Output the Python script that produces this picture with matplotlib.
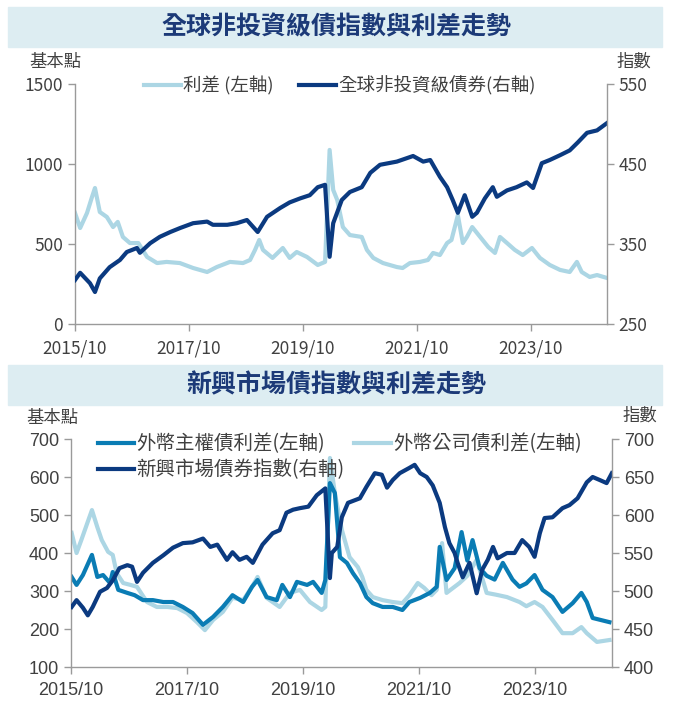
import numpy as np
import pandas as pd
import matplotlib
matplotlib.use("Agg")
import matplotlib.pyplot as plt
import matplotlib.dates as mdates
from matplotlib.patches import Rectangle

plt.rcParams['font.family'] = ['Noto Sans CJK TC', 'DejaVu Sans']

# --- data ---

# top panel: global high yield index (right axis)
hy_index_dates = [
    "2015-10-01", "2015-11-03", "2016-01-05", "2016-02-06", "2016-03-08", "2016-05-10",
    "2016-07-15", "2016-08-28", "2016-11-01", "2016-11-20", "2017-01-25", "2017-03-28",
    "2017-06-03", "2017-08-05", "2017-10-27", "2018-01-25", "2018-03-03", "2018-06-03",
    "2018-08-03", "2018-10-07", "2018-12-15", "2019-02-13", "2019-05-08", "2019-07-08",
    "2019-09-13", "2019-11-14", "2020-01-04", "2020-02-20", "2020-03-20", "2020-04-12",
    "2020-06-06", "2020-07-28", "2020-10-12", "2020-12-06", "2021-02-06", "2021-05-25",
    "2021-09-06", "2021-11-10", "2021-12-25", "2022-02-25", "2022-04-12", "2022-05-18",
    "2022-06-20", "2022-08-03", "2022-09-20", "2022-10-20", "2022-12-10", "2023-01-30",
    "2023-02-25", "2023-05-01", "2023-07-01", "2023-09-05", "2023-10-15", "2023-12-10",
    "2024-01-30", "2024-04-05", "2024-06-06", "2024-07-28", "2024-09-25", "2024-11-28",
    "2025-01-30",
]
hy_index = [
    305, 314, 301, 290, 307, 321, 330, 340, 345, 339, 351, 359,
    365, 370, 376, 378, 374, 374, 376, 380, 365, 384, 395, 402,
    407, 411, 421, 424, 334, 376, 405, 415, 421, 439, 449, 453,
    460, 453, 455, 434, 421, 405, 389, 411, 384, 389, 407, 421,
    409, 417, 421, 427, 420, 451, 455, 461, 467, 477, 489, 492,
    501,
]

# top panel: high yield spread (left axis, bp)
hy_spread_dates = [
    "2015-10-01", "2015-11-03", "2015-12-17", "2016-01-18", "2016-02-06", "2016-03-08",
    "2016-04-22", "2016-06-01", "2016-07-01", "2016-08-03", "2016-09-17", "2016-11-10",
    "2017-01-05", "2017-03-10", "2017-05-10", "2017-08-03", "2017-10-27", "2018-01-25",
    "2018-03-28", "2018-06-20", "2018-09-12", "2018-10-27", "2018-11-28", "2018-12-25",
    "2019-01-18", "2019-03-20", "2019-05-25", "2019-07-08", "2019-08-22", "2019-10-27",
    "2020-01-04", "2020-02-20", "2020-03-20", "2020-04-12", "2020-05-08", "2020-06-13",
    "2020-07-28", "2020-10-12", "2020-11-14", "2020-12-25", "2021-02-25", "2021-05-25",
    "2021-07-01", "2021-08-17", "2021-10-20", "2021-12-10", "2022-01-12", "2022-02-25",
    "2022-04-12", "2022-05-10", "2022-06-20", "2022-07-22", "2022-08-17", "2022-09-20",
    "2022-11-10", "2023-01-01", "2023-02-13", "2023-03-17", "2023-05-01", "2023-06-20",
    "2023-08-10", "2023-10-08", "2023-11-28", "2024-01-30", "2024-04-05", "2024-06-06",
    "2024-07-22", "2024-08-22", "2024-10-12", "2024-11-28", "2025-01-30",
]
hy_spread = [
    694, 600, 694, 794, 850, 700, 669, 606, 638, 544, 506, 506,
    419, 381, 388, 381, 350, 325, 356, 388, 381, 400, 463, 525,
    463, 413, 475, 413, 450, 419, 369, 388, 1088, 838, 775, 606,
    556, 544, 463, 413, 381, 356, 350, 381, 388, 400, 444, 431,
    506, 525, 680, 506, 544, 606, 544, 481, 444, 544, 506, 463,
    431, 475, 413, 369, 338, 325, 388, 325, 294, 306, 288,
]

# bottom panel: EM bond index (right axis)
em_index_dates = [
    "2015-10-05", "2015-11-05", "2015-12-15", "2016-01-15", "2016-02-15", "2016-04-01",
    "2016-05-15", "2016-06-20", "2016-08-01", "2016-09-20", "2016-10-20", "2016-11-20",
    "2016-12-28", "2017-02-28", "2017-05-05", "2017-07-05", "2017-09-05", "2017-11-05",
    "2018-01-10", "2018-02-25", "2018-04-10", "2018-06-10", "2018-07-15", "2018-08-28",
    "2018-10-12", "2018-11-20", "2019-01-20", "2019-03-25", "2019-05-08", "2019-06-20",
    "2019-08-01", "2019-09-13", "2019-11-05", "2019-12-28", "2020-02-20", "2020-03-20",
    "2020-04-01", "2020-05-05", "2020-06-03", "2020-07-12", "2020-09-25", "2020-11-05",
    "2020-12-28", "2021-02-10", "2021-03-15", "2021-04-20", "2021-06-03", "2021-08-03",
    "2021-09-05", "2021-10-10", "2021-11-20", "2021-12-28", "2022-02-10", "2022-03-15",
    "2022-04-12", "2022-05-15", "2022-06-03", "2022-07-05", "2022-08-17", "2022-10-01",
    "2022-11-05", "2022-12-10", "2023-01-12", "2023-02-10", "2023-04-10", "2023-05-28",
    "2023-07-15", "2023-08-28", "2023-10-01", "2023-11-03", "2023-12-03", "2024-01-22",
    "2024-03-25", "2024-05-08", "2024-06-28", "2024-08-25", "2024-10-01", "2024-11-15",
    "2024-12-28", "2025-01-30",
]
em_index = [
    479, 488, 478, 468, 479, 499, 504, 514, 530, 534, 532, 512,
    524, 537, 547, 557, 563, 564, 569, 558, 561, 541, 551, 541,
    545, 537, 561, 576, 580, 603, 607, 609, 611, 626, 635, 517,
    550, 558, 597, 616, 622, 637, 655, 653, 636, 646, 655, 662,
    666, 655, 650, 639, 616, 584, 563, 550, 537, 518, 537, 497,
    528, 541, 558, 543, 550, 550, 567, 558, 545, 576, 596, 597,
    609, 613, 622, 643, 650, 646, 642, 655,
]

# bottom panel: sovereign spread (left axis, bp)
sov_dates = [
    "2015-10-05", "2015-11-05", "2015-12-15", "2016-02-10", "2016-03-15", "2016-04-20",
    "2016-06-03", "2016-06-20", "2016-07-25", "2016-09-20", "2016-11-05", "2016-12-28",
    "2017-02-28", "2017-05-05", "2017-07-05", "2017-09-05", "2017-11-05", "2018-01-10",
    "2018-03-15", "2018-05-15", "2018-07-15", "2018-09-20", "2018-11-15", "2018-12-20",
    "2019-02-15", "2019-04-20", "2019-05-25", "2019-07-12", "2019-08-25", "2019-10-28",
    "2019-12-05", "2020-01-28", "2020-02-20", "2020-03-20", "2020-04-20", "2020-05-22",
    "2020-07-05", "2020-08-12", "2020-09-25", "2020-11-05", "2020-12-15", "2021-02-15",
    "2021-04-20", "2021-06-20", "2021-08-03", "2021-10-10", "2021-12-10", "2022-01-22",
    "2022-02-10", "2022-03-25", "2022-05-15", "2022-06-28", "2022-08-03", "2022-09-05",
    "2022-10-20", "2022-12-03", "2023-01-22", "2023-03-15", "2023-05-15", "2023-06-28",
    "2023-08-10", "2023-10-01", "2023-11-20", "2024-01-22", "2024-03-25", "2024-05-28",
    "2024-07-22", "2024-08-25", "2024-10-01", "2025-01-15",
]
sov_spread = [
    337, 316, 342, 395, 337, 342, 321, 350, 303, 295, 289, 276,
    276, 271, 271, 258, 242, 211, 232, 258, 289, 271, 311, 329,
    284, 276, 316, 284, 324, 316, 324, 295, 329, 584, 558, 389,
    374, 347, 321, 284, 268, 258, 258, 250, 271, 282, 295, 311,
    416, 329, 360, 455, 380, 434, 360, 340, 330, 374, 330, 311,
    320, 342, 303, 284, 245, 268, 295, 271, 229, 218,
]

# bottom panel: corporate spread (left axis, bp)
corp_dates = [
    "2015-10-05", "2015-11-05", "2015-12-05", "2016-01-12", "2016-02-10", "2016-03-15",
    "2016-04-12", "2016-05-22", "2016-06-20", "2016-07-15", "2016-08-25", "2016-10-10",
    "2016-11-20", "2017-01-22", "2017-03-25", "2017-05-30", "2017-08-01", "2017-10-01",
    "2017-12-03", "2018-01-22", "2018-03-15", "2018-05-15", "2018-07-15", "2018-09-20",
    "2018-11-15", "2018-12-20", "2019-02-15", "2019-05-08", "2019-07-12", "2019-09-13",
    "2019-11-15", "2020-01-28", "2020-02-20", "2020-03-20", "2020-04-20", "2020-06-03",
    "2020-07-22", "2020-09-12", "2020-10-10", "2020-11-05", "2020-12-15", "2021-02-15",
    "2021-04-20", "2021-06-20", "2021-08-03", "2021-09-25", "2021-11-05", "2021-12-20",
    "2022-01-22", "2022-02-25", "2022-03-25", "2022-06-15", "2022-08-03", "2022-10-01",
    "2022-12-03", "2023-02-03", "2023-04-10", "2023-06-28", "2023-08-10", "2023-10-01",
    "2023-11-20", "2024-01-22", "2024-03-25", "2024-05-28", "2024-07-22", "2024-08-25",
    "2024-10-28", "2025-01-15",
]
corp_spread = [
    453, 400, 434, 479, 513, 468, 434, 403, 395, 347, 321, 316,
    311, 271, 258, 258, 255, 242, 218, 197, 224, 245, 282, 276,
    311, 337, 282, 258, 295, 303, 271, 250, 258, 650, 558, 461,
    389, 363, 337, 303, 284, 276, 271, 268, 289, 321, 308, 289,
    303, 426, 295, 321, 340, 382, 295, 290, 284, 271, 260, 271,
    258, 224, 189, 189, 205, 189, 166, 171,
]

x_ticks = ["2015-10-01", "2017-10-01", "2019-10-01", "2021-10-01", "2023-10-01"]
x_start, x_end = "2015-10-01", "2025-01-31"

# --- styles ---
C_LIGHT = '#acd6e4'
C_MID = '#0a7cb4'
C_NAVY = '#0b3a80'
C_BANNER = '#ddedf2'
C_TITLE = '#1c3a78'
C_SPINE = '#9a9a9a'
C_TEXT = '#404040'
LW = 3.0


def to_dt(lst):
    return pd.to_datetime(lst)


def style_axes(ax, ax2, font, size):
    for a in (ax, ax2):
        a.spines['top'].set_visible(False)
        for s in ('left', 'right', 'bottom'):
            a.spines[s].set_color(C_SPINE)
            a.spines[s].set_linewidth(1.0)
        a.tick_params(direction='out', length=5, width=1.0, color=C_SPINE,
                      labelcolor=C_TEXT, labelsize=size)
        for lab in a.get_xticklabels() + a.get_yticklabels():
            lab.set_family(font)
    ax.spines['right'].set_visible(False)
    ax2.spines['left'].set_visible(False)
    ax2.spines['bottom'].set_visible(False)
    ax.set_xlim(pd.Timestamp(x_start), pd.Timestamp(x_end))
    ax.set_xticks(to_dt(x_ticks))
    ax.xaxis.set_major_formatter(mdates.DateFormatter('%Y/%m'))
    ax.tick_params(axis='x', pad=6)


def banner(fig, y0, y1, text):
    H = 706.0
    fig.patches.append(Rectangle((8 / 673, 1 - y1 / H), 654 / 673, (y1 - y0) / H,
                                 transform=fig.transFigure, color=C_BANNER, zorder=0))
    fig.text(336 / 673, 1 - (y0 + y1) / 2 / H, text, ha='center', va='center',
             fontsize=18, fontweight='bold', color=C_TITLE)


fig = plt.figure(figsize=(6.73, 7.06), dpi=100)

# --- top panel ---
banner(fig, 7, 47, '全球非投資級債指數與利差走勢')
ax1 = fig.add_axes([75 / 673, 1 - 324 / 706, 532 / 673, 240 / 706])
ax1r = ax1.twinx()
l1, = ax1.plot(to_dt(hy_spread_dates), hy_spread, color=C_LIGHT, lw=LW, label='利差 (左軸)')
l2, = ax1r.plot(to_dt(hy_index_dates), hy_index, color=C_NAVY, lw=LW, label='全球非投資級債券(右軸)')
ax1.set_ylim(0, 1500)
ax1.set_yticks([0, 500, 1000, 1500])
ax1r.set_ylim(250, 550)
ax1r.set_yticks([250, 350, 450, 550])
style_axes(ax1, ax1r, 'Noto Sans CJK TC', 12.5)
fig.text(55 / 673, 1 - 62 / 706, '基本點', ha='center', va='center', fontsize=12.5, color=C_TEXT)
fig.text(634 / 673, 1 - 62 / 706, '指數', ha='center', va='center', fontsize=12.5, color=C_TEXT)
fig.legend(handles=[l1, l2], loc='center', bbox_to_anchor=(340 / 673, 1 - 86 / 706),
           ncol=2, frameon=False, fontsize=13.3, labelcolor=C_TEXT,
           handlelength=2.0, handletextpad=0.1, columnspacing=1.4)

# --- bottom panel ---
banner(fig, 365, 405, '新興市場債指數與利差走勢')
ax2 = fig.add_axes([71 / 673, 1 - 667 / 706, 541 / 673, 228 / 706])
ax2r = ax2.twinx()
l4, = ax2.plot(to_dt(corp_dates), corp_spread, color=C_LIGHT, lw=LW, label='外幣公司債利差(左軸)')
l3, = ax2.plot(to_dt(sov_dates), sov_spread, color=C_MID, lw=LW, label='外幣主權債利差(左軸)')
l5, = ax2r.plot(to_dt(em_index_dates), em_index, color=C_NAVY, lw=LW, label='新興市場債券指數(右軸)')
ax2.set_ylim(100, 700)
ax2.set_yticks(np.arange(100, 701, 100))
ax2r.set_ylim(400, 700)
ax2r.set_yticks(np.arange(400, 701, 50))
style_axes(ax2, ax2r, 'Liberation Sans', 13)
fig.text(52 / 673, 1 - 418 / 706, '基本點', ha='center', va='center', fontsize=12.5, color=C_TEXT)
fig.text(640 / 673, 1 - 416 / 706, '指數', ha='center', va='center', fontsize=12.5, color=C_TEXT)
fig.legend(handles=[l3, l5, l4], loc='upper left', bbox_to_anchor=(80 / 673, 1 - 416 / 706),
           ncol=2, frameon=False, fontsize=14.0, labelcolor=C_TEXT,
           handlelength=1.9, handletextpad=0.1, columnspacing=0.5, labelspacing=0.25)

fig.savefig('out.png', dpi=100)
